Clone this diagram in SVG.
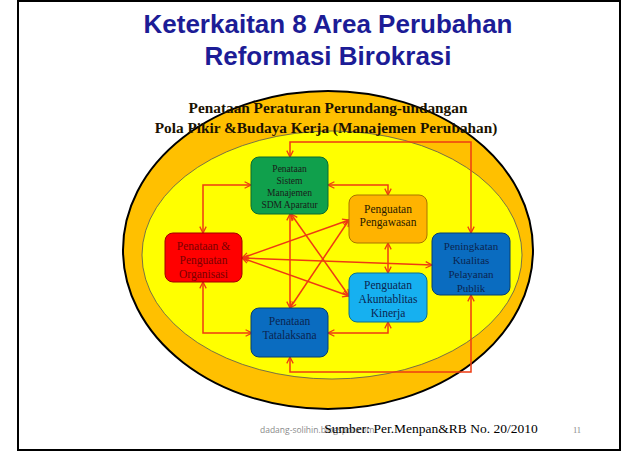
<svg xmlns="http://www.w3.org/2000/svg" width="638" height="452" viewBox="0 0 638 452">
<defs>
<style>
.title{font-family:"Liberation Sans",Arial,sans-serif;font-weight:bold;font-size:26px;fill:#1C1C96;text-anchor:middle}
.band{font-family:"Liberation Serif","Times New Roman",serif;font-weight:bold;font-size:15.3px;fill:#1a1200;text-anchor:middle}
.nt{font-family:"Liberation Serif","Times New Roman",serif;text-anchor:middle}
.box{stroke-width:1}
.con{fill:none;stroke:#EE3B12;stroke-width:1.5;marker-start:url(#ah);marker-end:url(#ah)}
</style>
<marker id="ah" viewBox="0 0 10 10" refX="9" refY="5" markerWidth="8" markerHeight="8" markerUnits="userSpaceOnUse" orient="auto-start-reverse">
<path d="M1,1 L9,5 L1,9" fill="none" stroke="#EE3B12" stroke-width="1.6"/>
</marker>
</defs>
<rect x="0" y="0" width="638" height="452" fill="#ffffff"/>
<rect x="18" y="1" width="602" height="449" fill="none" stroke="#000" stroke-width="2"/>
<text class="title" x="328" y="33">Keterkaitan 8 Area Perubahan</text>
<text class="title" x="328" y="65">Reformasi Birokrasi</text>
<ellipse cx="328" cy="250" rx="205" ry="159" fill="#FFC000" stroke="#000" stroke-width="2"/>
<ellipse cx="332" cy="255" rx="190" ry="124" fill="#FFFF00" stroke="#555" stroke-width="0.8"/>
<text class="band" x="328" y="113">Penataan Peraturan Perundang-undangan</text>
<text class="band" x="326" y="133">Pola Pikir &amp;Budaya Kerja (Manajemen Perubahan)</text>
<g id="connectors">
<polyline class="con" points="290,157 290,142 471,142 471,233"/>
<polyline class="con" points="251,185 203,185 203,233"/>
<polyline class="con" points="328,185 388,185 388,195"/>
<line class="con" x1="388" y1="243" x2="388" y2="273"/>
<polyline class="con" points="203,282 203,333 252,333"/>
<polyline class="con" points="328,333 388,333 388,322"/>
<polyline class="con" points="290,357 290,372 471,372 471,295"/>
<line class="con" x1="242" y1="258" x2="349" y2="220"/>
<line class="con" x1="242" y1="258" x2="349" y2="296"/>
<line class="con" x1="242" y1="258" x2="432" y2="265"/>
<line class="con" x1="290" y1="214" x2="290" y2="308"/>
<line class="con" x1="291" y1="214" x2="349" y2="296"/>
<line class="con" x1="290" y1="308" x2="349" y2="220"/>
</g>
<g id="sdm">
<rect class="box" x="251" y="157" width="77" height="57" rx="8" fill="#10A04C" stroke="#0B6B30"/>
<text class="nt" font-size="9.5" fill="#1a1a1a"><tspan x="289.5" y="172">Penataan</tspan><tspan x="289.5" y="184">Sistem</tspan><tspan x="289.5" y="196">Manajemen</tspan><tspan x="289.5" y="208">SDM Aparatur</tspan></text>
</g>
<g id="pengawasan">
<rect class="box" x="349" y="195" width="78" height="48" rx="8" fill="#FFB300" stroke="#A87400"/>
<text class="nt" font-size="11.5" fill="#2a1a00"><tspan x="388" y="213">Penguatan</tspan><tspan x="388" y="226">Pengawasan</tspan></text>
</g>
<g id="pelayanan">
<rect class="box" x="432" y="233" width="78" height="62" rx="8" fill="#0A6CC0" stroke="#073E70"/>
<text class="nt" font-size="11" fill="#0B2550"><tspan x="471" y="250">Peningkatan</tspan><tspan x="471" y="264">Kualitas</tspan><tspan x="471" y="278">Pelayanan</tspan><tspan x="471" y="292">Publik</tspan></text>
</g>
<g id="akuntabilitas">
<rect class="box" x="349" y="273" width="78" height="49" rx="8" fill="#16B0F0" stroke="#0B6E8F"/>
<text class="nt" font-size="11.5" fill="#0B2550"><tspan x="388" y="289">Penguatan</tspan><tspan x="388" y="303">Akuntablitas</tspan><tspan x="388" y="317">Kinerja</tspan></text>
</g>
<g id="organisasi">
<rect class="box" x="165" y="233" width="77" height="49" rx="8" fill="#FF0000" stroke="#A00000"/>
<text class="nt" font-size="11.5" fill="#7A0000"><tspan x="203.5" y="250">Penataan &amp;</tspan><tspan x="203.5" y="264">Penguatan</tspan><tspan x="203.5" y="278">Organisasi</tspan></text>
</g>
<g id="tatalaksana">
<rect class="box" x="251" y="308" width="77" height="49" rx="8" fill="#0A6CC0" stroke="#073E70"/>
<text class="nt" font-size="11.5" fill="#0B2550"><tspan x="289.5" y="325">Penataan</tspan><tspan x="289.5" y="339">Tatalaksana</tspan></text>
</g>
<text x="260" y="433" font-family="'Open Sans','Liberation Sans',sans-serif" font-size="8.5" fill="#8a8a8a">dadang-solihin.blogspot.com</text>
<text x="431" y="433" font-family="'Liberation Serif','Times New Roman',serif" font-size="13.5" fill="#000" text-anchor="middle">Sumber: Per.Menpan&amp;RB No. 20/2010</text>
<text x="577" y="433" font-family="'Liberation Serif','Times New Roman',serif" font-size="8.5" fill="#888" text-anchor="middle">11</text>
</svg>
